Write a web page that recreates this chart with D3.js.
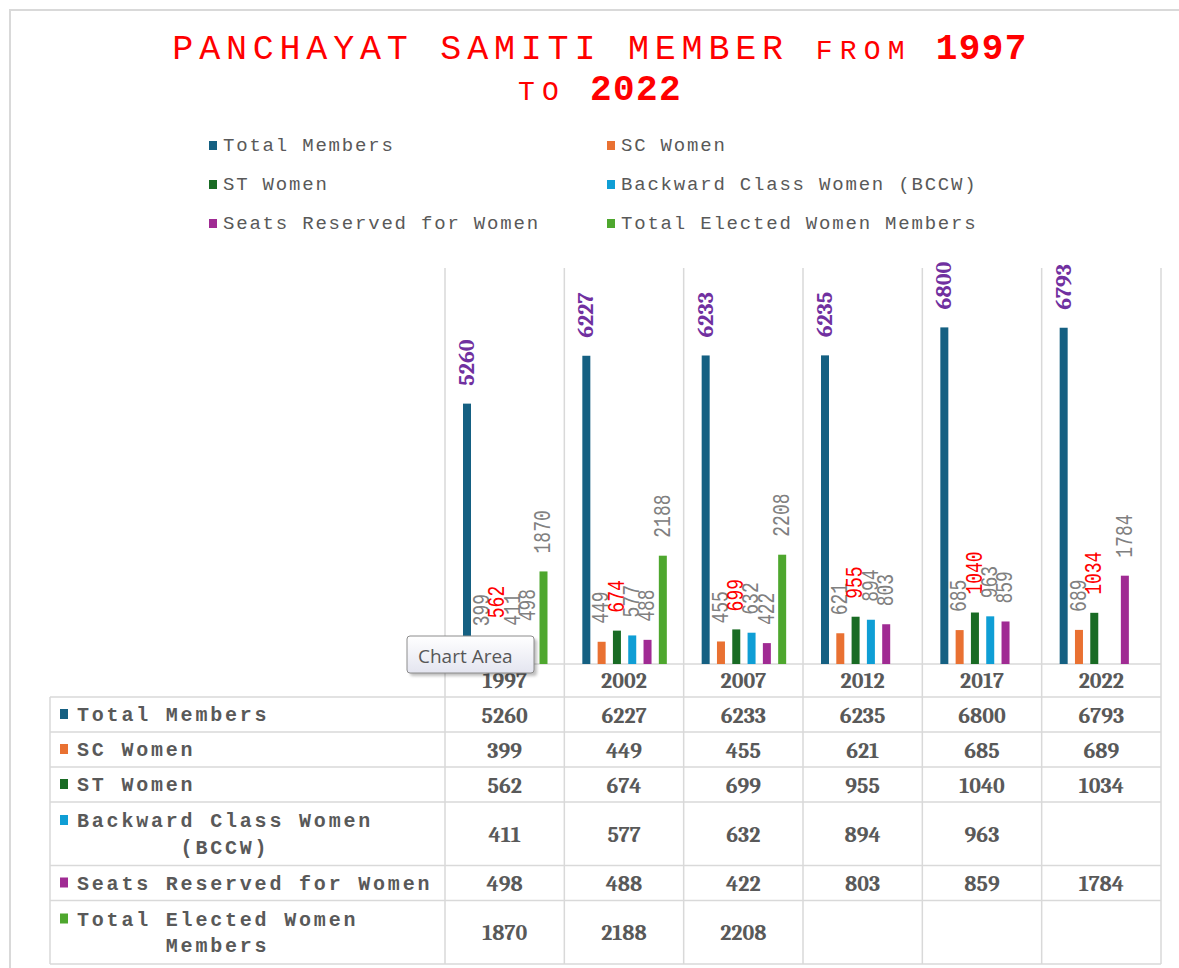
<!DOCTYPE html>
<html>
<head>
<meta charset="utf-8">
<script src="https://cdn.jsdelivr.net/npm/d3@7"></script>
<style>
  body { margin: 0; background: #fff; }
</style>
</head>
<body>
<div id="chart"></div>
<script>
const width = 1179;
const height = 968;

// data
const years = ["1997", "2002", "2007", "2012", "2017", "2022"];
const seriesNames = [
  "Total Members",
  "SC Women",
  "ST Women",
  "Backward Class Women (BCCW)",
  "Seats Reserved for Women",
  "Total Elected Women Members"
];
const totalMembers = [5260, 6227, 6233, 6235, 6800, 6793];
const scWomen = [399, 449, 455, 621, 685, 689];
const stWomen = [562, 674, 699, 955, 1040, 1034];
const bccwWomen = [411, 577, 632, 894, 963, null];
const seatsReserved = [498, 488, 422, 803, 859, 1784];
const totalElectedWomen = [1870, 2188, 2208, null, null, null];
const seriesValues = [totalMembers, scWomen, stWomen, bccwWomen, seatsReserved, totalElectedWomen];
const seriesColors = ["#156082", "#E97132", "#196B24", "#0F9ED5", "#A02B93", "#4EA72E"];

const mono = '"Courier New", "Liberation Mono", monospace';
const serif = '"Cambria", "Liberation Serif", serif';
const textGrey = "#595959";
const gridColor = "#d9d9d9";

const plotLeft = 445, plotRight = 1161, plotTop = 268, baseY = 664;
const tableLeft = 50, headerBottom = 697;

const svg = d3.select("#chart")
  .append("svg")
  .attr("width", width)
  .attr("height", height);

// chart area frame
svg.append("rect")
  .attr("x", 10).attr("y", 10)
  .attr("width", width + 20).attr("height", height + 20)
  .attr("fill", "#fff")
  .attr("stroke", gridColor)
  .attr("stroke-width", 2);

// title
const titleLines = [
  [["PANCHAYAT SAMITI MEMBER ", 35, 5.8, "normal"], ["FROM ", 28, 7.2, "normal"], ["1997", 36, 1.4, "bold"]],
  [["TO ", 28, 7.2, "normal"], ["2022", 36, 1.4, "bold"]]
];
titleLines.forEach((runs, i) => {
  const t = svg.append("text")
    .attr("x", 600)
    .attr("y", 59 + i * 41)
    .attr("text-anchor", "middle")
    .attr("fill", "#ff0000")
    .style("font-family", mono);
  runs.forEach(r => {
    t.append("tspan")
      .text(r[0])
      .style("font-size", r[1] + "px")
      .style("letter-spacing", r[2] + "px")
      .style("font-weight", r[3]);
  });
});

// legend
const legend = svg.append("g");
seriesNames.forEach((name, i) => {
  const lx = i % 2 === 0 ? 209 : 607;
  const ly = 145 + Math.floor(i / 2) * 39;
  legend.append("rect")
    .attr("x", lx).attr("y", ly - 4)
    .attr("width", 8).attr("height", 9)
    .attr("fill", seriesColors[i]);
  legend.append("text")
    .attr("x", lx + 14)
    .attr("y", ly + 6)
    .attr("fill", textGrey)
    .style("font-family", mono)
    .style("font-size", "19px")
    .style("letter-spacing", "1.8px")
    .text(name);
});

// scales
const x0 = d3.scaleBand().domain(years).range([plotLeft, plotRight]);
const x1 = d3.scaleBand().domain(seriesNames).range([18, 102.5]).paddingInner(0.477);
const y = d3.scaleLinear().domain([0, 8000]).range([baseY, plotTop]);

// table row layout (computed after wrapping labels)
const maxLabelWidth = 365;
const labelStyle = sel => sel
  .style("font-family", mono)
  .style("font-size", "20px")
  .style("font-weight", "bold")
  .style("letter-spacing", "2.8px");
const measure = svg.append("text").call(labelStyle);

function wrapLabel(label) {
  const words = label.split(" ");
  const lines = [];
  let line = [];
  words.forEach(w => {
    const test = line.concat([w]).join(" ");
    measure.text(test);
    if (measure.node().getComputedTextLength() > maxLabelWidth && line.length) {
      lines.push(line.join(" "));
      line = [w];
    } else {
      line.push(w);
    }
  });
  lines.push(line.join(" "));
  return lines;
}

const rows = [];
let rowY = headerBottom;
seriesNames.forEach((name, i) => {
  const lines = wrapLabel(name);
  const h = 35 + (lines.length - 1) * 28.5;
  rows.push({ name, lines, top: rowY, h, i });
  rowY += h;
});
const tableBottom = rowY;
measure.remove();

// grid lines
const grid = svg.append("g").attr("stroke", gridColor).attr("stroke-width", 1.5);
years.map(d => x0(d)).concat([plotRight]).forEach(gx => {
  grid.append("line")
    .attr("x1", gx).attr("x2", gx)
    .attr("y1", plotTop).attr("y2", tableBottom);
});
grid.append("line")
  .attr("x1", plotLeft).attr("x2", plotRight)
  .attr("y1", baseY).attr("y2", baseY);
[headerBottom].concat(rows.map(r => r.top + r.h)).forEach(gy => {
  grid.append("line")
    .attr("x1", tableLeft).attr("x2", plotRight)
    .attr("y1", gy).attr("y2", gy);
});
grid.append("line")
  .attr("x1", tableLeft).attr("x2", tableLeft)
  .attr("y1", headerBottom).attr("y2", tableBottom);

// bars
const bars = svg.append("g");
seriesNames.forEach((name, s) => {
  seriesValues[s].forEach((v, i) => {
    if (v == null) return;
    bars.append("rect")
      .attr("x", x0(years[i]) + x1(name))
      .attr("y", y(v))
      .attr("width", x1.bandwidth())
      .attr("height", baseY - y(v))
      .attr("fill", seriesColors[s]);
  });
});

// data labels (rotated)
const labels = svg.append("g");
seriesNames.forEach((name, s) => {
  seriesValues[s].forEach((v, i) => {
    if (v == null) return;
    const cx = x0(years[i]) + x1(name) + x1.bandwidth() / 2;
    const ty = y(v) - 18;
    const t = labels.append("text")
      .attr("text-anchor", "start")
      .attr("dominant-baseline", "central")
      .text(v);
    if (s === 0) {
      t.attr("transform", `translate(${cx},${ty}) rotate(-90)`)
        .attr("fill", "#7030A0")
        .style("font-family", serif)
        .style("font-weight", "bold")
        .style("font-size", "22px");
    } else {
      t.attr("transform", `translate(${cx},${ty}) rotate(-90) scale(1,1.35)`)
        .attr("fill", s === 2 ? "#ff0000" : "#808080")
        .style("font-family", mono)
        .style("font-size", "18px");
    }
  });
});

// table: category header
svg.append("g").selectAll("text")
  .data(years)
  .join("text")
  .attr("x", d => x0(d) + x0.bandwidth() / 2)
  .attr("y", 688)
  .attr("text-anchor", "middle")
  .attr("fill", textGrey)
  .style("font-family", serif)
  .style("font-weight", "bold")
  .style("font-size", "22px")
  .text(d => d);

// table: rows
const table = svg.append("g");
rows.forEach(r => {
  const cy = r.top + r.h / 2;
  const n = r.lines.length;
  const firstBase = cy + 6.5 - (n - 1) * 26.5 / 2;
  table.append("rect")
    .attr("x", 60).attr("y", firstBase - 12)
    .attr("width", 8).attr("height", 10)
    .attr("fill", seriesColors[r.i]);
  const lt = table.append("text")
    .attr("fill", textGrey)
    .call(labelStyle);
  const first = lt.append("tspan").attr("x", 77).attr("y", firstBase).text(r.lines[0]);
  const firstW = first.node().getComputedTextLength();
  r.lines.slice(1).forEach((ln, k) => {
    lt.append("tspan")
      .attr("x", 77 + firstW / 2)
      .attr("y", firstBase + (k + 1) * 26.5)
      .attr("text-anchor", "middle")
      .text(ln);
  });
  seriesValues[r.i].forEach((v, i) => {
    if (v == null) return;
    table.append("text")
      .attr("x", x0(years[i]) + x0.bandwidth() / 2)
      .attr("y", cy + 8)
      .attr("text-anchor", "middle")
      .attr("fill", textGrey)
      .style("font-family", serif)
      .style("font-weight", "bold")
      .style("font-size", "22px")
      .text(v);
  });
});

// "Chart Area" hover tip
const defs = svg.append("defs");
const grad = defs.append("linearGradient").attr("id", "tipFill").attr("x1", 0).attr("x2", 0).attr("y1", 0).attr("y2", 1);
grad.append("stop").attr("offset", "0%").attr("stop-color", "#ffffff");
grad.append("stop").attr("offset", "100%").attr("stop-color", "#e4e5f0");
const blur = defs.append("filter").attr("id", "tipShadow");
blur.append("feGaussianBlur").attr("stdDeviation", 1.5);

const tip = svg.append("g").attr("transform", "translate(407,636)");
tip.append("rect")
  .attr("x", 3).attr("y", 3).attr("width", 127).attr("height", 37).attr("rx", 3)
  .attr("fill", "rgba(0,0,0,0.25)")
  .attr("filter", "url(#tipShadow)");
tip.append("rect")
  .attr("width", 127).attr("height", 37).attr("rx", 3)
  .attr("fill", "url(#tipFill)")
  .attr("stroke", "#8c8c8c");
tip.append("text")
  .attr("x", 11).attr("y", 27)
  .attr("fill", "#575757")
  .style("font-family", '"Open Sans", "Noto Sans", sans-serif')
  .style("font-size", "19px")
  .text("Chart Area");
</script>
</body>
</html>
